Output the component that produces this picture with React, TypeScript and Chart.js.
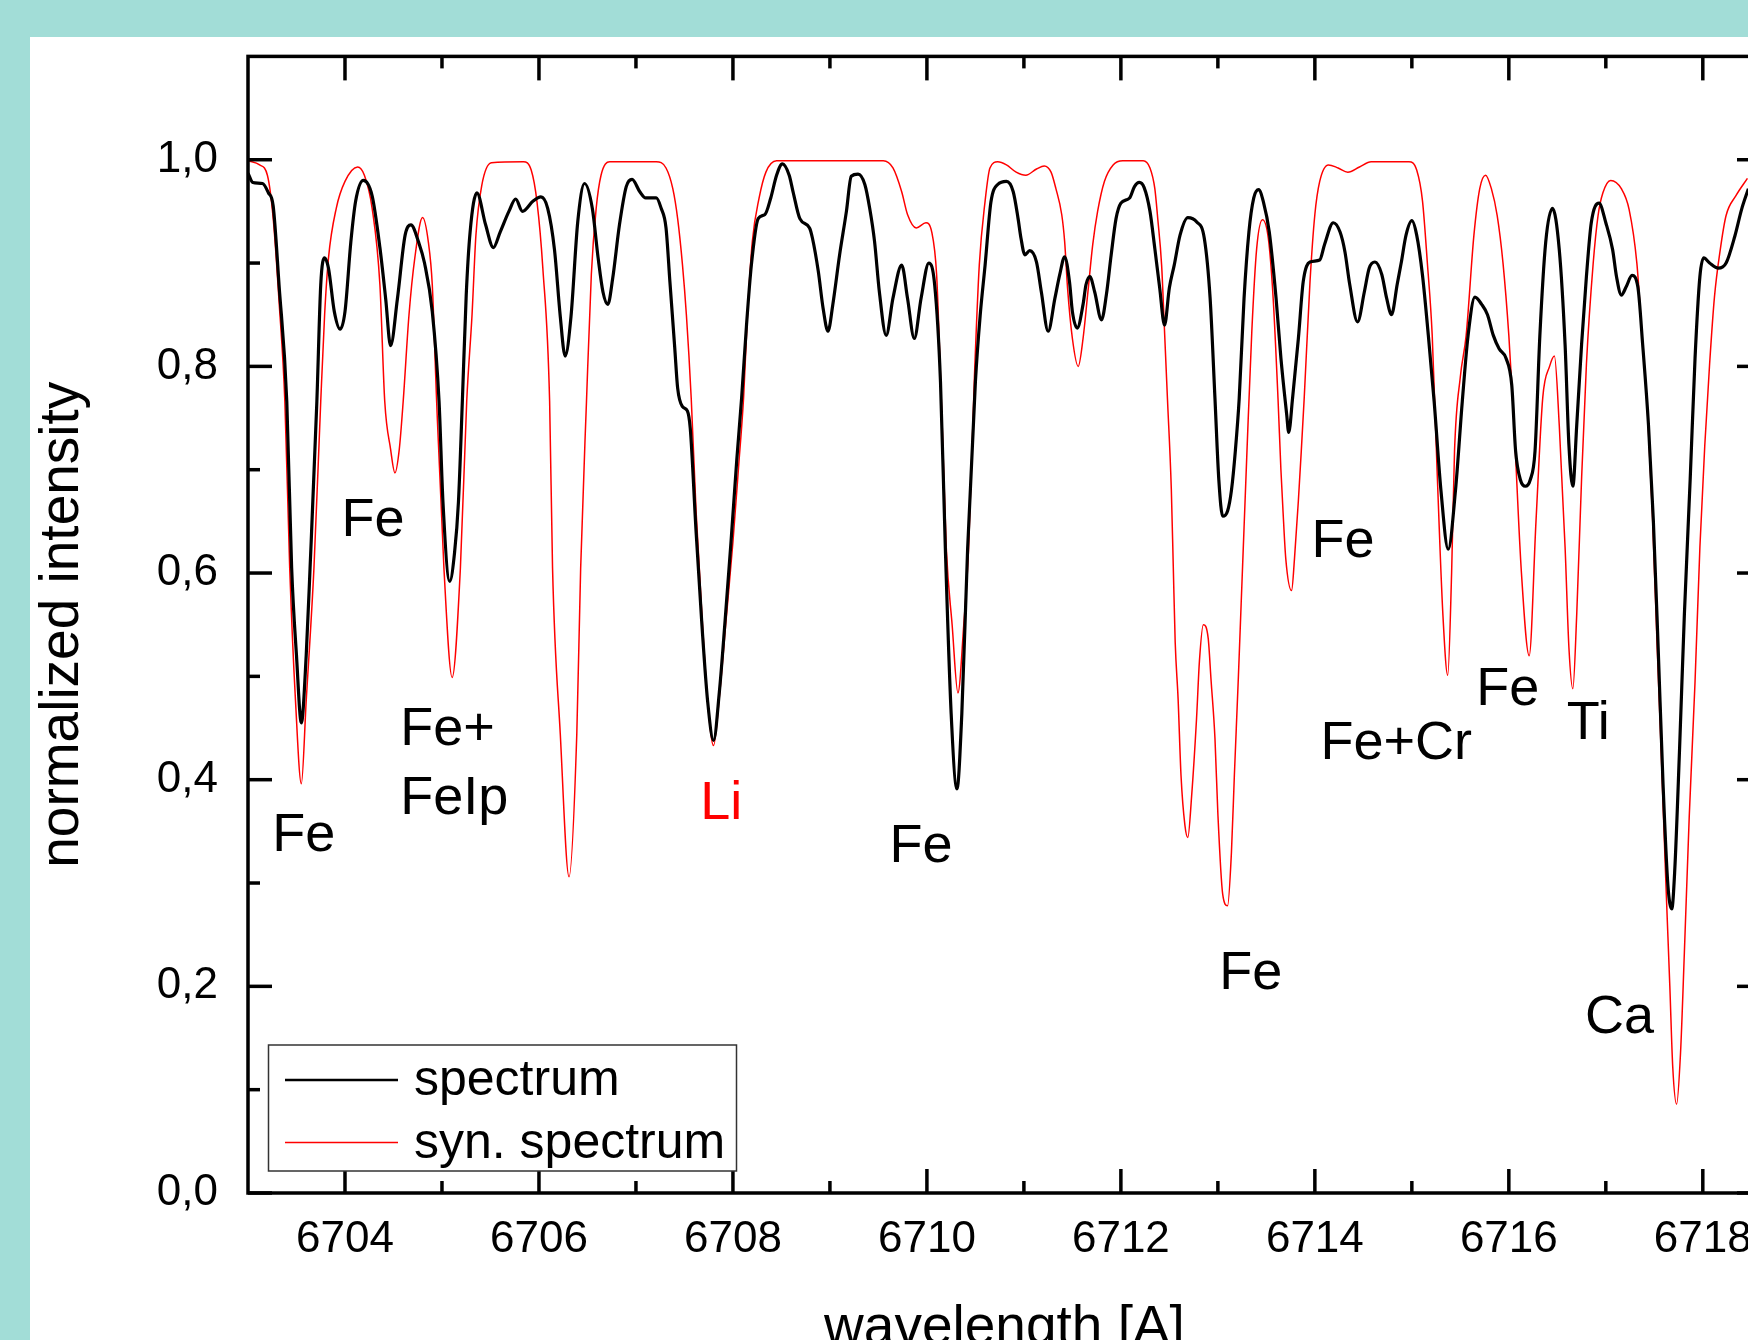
import React, { useEffect, useRef } from 'react';
import { Chart, registerables } from 'chart.js';

Chart.register(...registerables);

// ---------- data ----------
const SERIES_NAMES = ['spectrum', 'syn. spectrum'];

const SPEC_WL = [
  6703.00, 6703.05, 6703.15, 6703.21, 6703.26, 6703.32, 6703.40, 6703.45, 6703.50, 6703.55,
  6703.60, 6703.64, 6703.71, 6703.75, 6703.79, 6703.83, 6703.89, 6703.95, 6704.00, 6704.06,
  6704.11, 6704.19, 6704.28, 6704.36, 6704.42, 6704.47, 6704.54, 6704.62, 6704.68, 6704.76,
  6704.82, 6704.90, 6704.97, 6705.01, 6705.08, 6705.13, 6705.17, 6705.21, 6705.25, 6705.29,
  6705.36, 6705.45, 6705.53, 6705.60, 6705.69, 6705.76, 6705.83, 6705.94, 6706.02, 6706.09,
  6706.16, 6706.22, 6706.27, 6706.33, 6706.40, 6706.47, 6706.55, 6706.61, 6706.66, 6706.71,
  6706.76, 6706.83, 6706.90, 6706.96, 6707.04, 6707.10, 6707.21, 6707.26, 6707.31, 6707.35,
  6707.40, 6707.43, 6707.48, 6707.53, 6707.56, 6707.62, 6707.68, 6707.74, 6707.80, 6707.86,
  6707.92, 6707.98, 6708.04, 6708.09, 6708.14, 6708.19, 6708.26, 6708.33, 6708.39, 6708.45,
  6708.51, 6708.58, 6708.62, 6708.69, 6708.79, 6708.82, 6708.88, 6708.93, 6708.98, 6709.03,
  6709.10, 6709.17, 6709.22, 6709.29, 6709.36, 6709.41, 6709.46, 6709.51, 6709.58, 6709.65,
  6709.74, 6709.80, 6709.87, 6709.94, 6710.02, 6710.08, 6710.14, 6710.19, 6710.25, 6710.31,
  6710.36, 6710.42, 6710.50, 6710.55, 6710.60, 6710.66, 6710.73, 6710.82, 6710.89, 6710.94,
  6710.97, 6711.01, 6711.06, 6711.13, 6711.18, 6711.25, 6711.32, 6711.37, 6711.42, 6711.47,
  6711.50, 6711.55, 6711.61, 6711.64, 6711.68, 6711.73, 6711.80, 6711.85, 6711.90, 6711.95,
  6712.00, 6712.09, 6712.14, 6712.19, 6712.24, 6712.30, 6712.35, 6712.40, 6712.45, 6712.50,
  6712.55, 6712.61, 6712.69, 6712.78, 6712.86, 6712.92, 6712.97, 6713.01, 6713.05, 6713.10,
  6713.14, 6713.18, 6713.22, 6713.27, 6713.32, 6713.37, 6713.42, 6713.47, 6713.53, 6713.60,
  6713.65, 6713.71, 6713.73, 6713.77, 6713.83, 6713.88, 6713.95, 6714.05, 6714.10, 6714.19,
  6714.26, 6714.31, 6714.36, 6714.44, 6714.51, 6714.56, 6714.62, 6714.69, 6714.74, 6714.79,
  6714.85, 6714.89, 6714.94, 6715.00, 6715.05, 6715.11, 6715.17, 6715.23, 6715.30, 6715.375,
  6715.45, 6715.52, 6715.58, 6715.65, 6715.72, 6715.78, 6715.84, 6715.90, 6715.97, 6716.03,
  6716.07, 6716.12, 6716.17, 6716.22, 6716.27, 6716.32, 6716.38, 6716.45, 6716.52, 6716.58,
  6716.62, 6716.66, 6716.70, 6716.75, 6716.80, 6716.85, 6716.93, 6717.00, 6717.07, 6717.11,
  6717.16, 6717.21, 6717.27, 6717.33, 6717.38, 6717.44, 6717.49, 6717.54, 6717.59, 6717.64,
  6717.68, 6717.71, 6717.76, 6717.81, 6717.87, 6717.92, 6717.97, 6718.01, 6718.07, 6718.16,
  6718.24, 6718.33, 6718.40, 6718.47,
];
const SPEC_INT = [
  0.987, 0.978, 0.977, 0.968, 0.955, 0.879, 0.766, 0.605, 0.520, 0.455,
  0.520, 0.605, 0.766, 0.879, 0.905, 0.895, 0.853, 0.836, 0.853, 0.920,
  0.960, 0.980, 0.965, 0.915, 0.865, 0.820, 0.865, 0.927, 0.937, 0.920,
  0.900, 0.853, 0.766, 0.669, 0.592, 0.620, 0.669, 0.766, 0.869, 0.930,
  0.968, 0.937, 0.915, 0.930, 0.950, 0.962, 0.950, 0.960, 0.964, 0.953,
  0.913, 0.848, 0.810, 0.848, 0.940, 0.977, 0.953, 0.905, 0.872, 0.860,
  0.885, 0.937, 0.974, 0.981, 0.969, 0.963, 0.963, 0.953, 0.934, 0.882,
  0.818, 0.779, 0.761, 0.757, 0.740, 0.640, 0.550, 0.475, 0.438, 0.485,
  0.555, 0.630, 0.710, 0.770, 0.840, 0.898, 0.943, 0.947, 0.963, 0.985,
  0.996, 0.985, 0.969, 0.943, 0.934, 0.924, 0.892, 0.856, 0.834, 0.860,
  0.908, 0.950, 0.984, 0.986, 0.976, 0.953, 0.921, 0.872, 0.830, 0.866,
  0.898, 0.866, 0.827, 0.866, 0.900, 0.879, 0.785, 0.624, 0.464, 0.391,
  0.464, 0.624, 0.785, 0.850, 0.898, 0.959, 0.976, 0.979, 0.969, 0.943,
  0.924, 0.908, 0.912, 0.901, 0.872, 0.834, 0.866, 0.889, 0.906, 0.882,
  0.853, 0.837, 0.860, 0.879, 0.887, 0.872, 0.845, 0.869, 0.908, 0.943,
  0.958, 0.963, 0.974, 0.978, 0.973, 0.950, 0.914, 0.876, 0.840, 0.876,
  0.898, 0.927, 0.944, 0.940, 0.924, 0.866, 0.769, 0.690, 0.655, 0.660,
  0.680, 0.718, 0.769, 0.866, 0.930, 0.963, 0.971, 0.959, 0.930, 0.866,
  0.808, 0.753, 0.736, 0.769, 0.827, 0.882, 0.901, 0.903, 0.918, 0.939,
  0.930, 0.911, 0.879, 0.843, 0.872, 0.895, 0.901, 0.889, 0.866, 0.850,
  0.880, 0.900, 0.927, 0.941, 0.927, 0.888, 0.830, 0.766, 0.680, 0.623,
  0.680, 0.766, 0.830, 0.867, 0.860, 0.850, 0.830, 0.817, 0.808, 0.782,
  0.718, 0.690, 0.684, 0.690, 0.718, 0.830, 0.920, 0.953, 0.913, 0.821,
  0.723, 0.684, 0.743, 0.821, 0.887, 0.939, 0.958, 0.939, 0.913, 0.887,
  0.869, 0.877, 0.888, 0.877, 0.821, 0.743, 0.651, 0.527, 0.396, 0.298,
  0.275, 0.311, 0.429, 0.560, 0.691, 0.808, 0.887, 0.905, 0.900, 0.895,
  0.900, 0.926, 0.952, 0.972,
];

const SYN_WL = [
  6703.00, 6703.12, 6703.20, 6703.26, 6703.32, 6703.38, 6703.43, 6703.49, 6703.55, 6703.60,
  6703.68, 6703.75, 6703.79, 6703.83, 6703.91, 6704.00, 6704.13, 6704.20, 6704.28, 6704.36,
  6704.41, 6704.47, 6704.515, 6704.56, 6704.60, 6704.66, 6704.72, 6704.80, 6704.86, 6704.90,
  6704.945, 6705.02, 6705.105, 6705.19, 6705.255, 6705.31, 6705.35, 6705.41, 6705.51, 6705.84,
  6705.92, 6705.98, 6706.04, 6706.11, 6706.14, 6706.22, 6706.31, 6706.39, 6706.43, 6706.49,
  6706.54, 6706.59, 6706.64, 6706.73, 6707.21, 6707.31, 6707.38, 6707.43, 6707.48, 6707.52,
  6707.57, 6707.62, 6707.68, 6707.74, 6707.80, 6707.86, 6707.93, 6708.00, 6708.06, 6708.11,
  6708.15, 6708.20, 6708.27, 6708.34, 6708.45, 6709.55, 6709.65, 6709.74, 6709.80, 6709.89,
  6709.99, 6710.05, 6710.10, 6710.13, 6710.16, 6710.20, 6710.26, 6710.32, 6710.38, 6710.43,
  6710.49, 6710.54, 6710.60, 6710.65, 6710.73, 6710.82, 6710.92, 6711.02, 6711.13, 6711.21,
  6711.28, 6711.33, 6711.39, 6711.42, 6711.45, 6711.50, 6711.56, 6711.61, 6711.66, 6711.71,
  6711.76, 6711.83, 6711.92, 6712.02, 6712.23, 6712.30, 6712.35, 6712.38, 6712.42, 6712.45,
  6712.48, 6712.52, 6712.54, 6712.56, 6712.59, 6712.62, 6712.66, 6712.69, 6712.73, 6712.78,
  6712.81, 6712.85, 6712.90, 6712.93, 6712.97, 6713.00, 6713.05, 6713.10, 6713.14, 6713.17,
  6713.21, 6713.24, 6713.27, 6713.30, 6713.35, 6713.40, 6713.46, 6713.52, 6713.57, 6713.62,
  6713.65, 6713.67, 6713.70, 6713.76, 6713.79, 6713.83, 6713.86, 6713.89, 6713.95, 6714.00,
  6714.05, 6714.14, 6714.24, 6714.34, 6714.46, 6714.58, 6714.97, 6715.05, 6715.11, 6715.16,
  6715.21, 6715.26, 6715.32, 6715.37, 6715.41, 6715.44, 6715.50, 6715.56, 6715.64, 6715.70,
  6715.76, 6715.82, 6715.88, 6715.94, 6716.00, 6716.05, 6716.13, 6716.21, 6716.28, 6716.35,
  6716.42, 6716.47, 6716.52, 6716.58, 6716.62, 6716.66, 6716.70, 6716.75, 6716.80, 6716.87,
  6716.92, 6716.97, 6717.05, 6717.16, 6717.24, 6717.32, 6717.37, 6717.43, 6717.48, 6717.53,
  6717.57, 6717.62, 6717.66, 6717.69, 6717.73, 6717.77, 6717.81, 6717.86, 6717.92, 6717.97,
  6718.02, 6718.07, 6718.12, 6718.18, 6718.24, 6718.34, 6718.46,
];
const SYN_INT = [
  0.999, 0.995, 0.985, 0.943, 0.863, 0.766, 0.605, 0.476, 0.396, 0.476,
  0.605, 0.766, 0.850, 0.905, 0.953, 0.979, 0.993, 0.985, 0.953, 0.879,
  0.766, 0.720, 0.697, 0.720, 0.766, 0.850, 0.905, 0.944, 0.920, 0.879,
  0.766, 0.605, 0.499, 0.605, 0.766, 0.850, 0.927, 0.975, 0.997, 0.998,
  0.990, 0.959, 0.895, 0.766, 0.605, 0.444, 0.306, 0.444, 0.605, 0.766,
  0.889, 0.953, 0.985, 0.998, 0.998, 0.992, 0.972, 0.943, 0.898, 0.850,
  0.769, 0.660, 0.560, 0.475, 0.433, 0.480, 0.555, 0.630, 0.705, 0.770,
  0.850, 0.921, 0.963, 0.988, 0.999, 0.999, 0.992, 0.969, 0.947, 0.934,
  0.939, 0.930, 0.889, 0.818, 0.737, 0.624, 0.550, 0.484, 0.550, 0.624,
  0.790, 0.898, 0.960, 0.992, 0.998, 0.995, 0.988, 0.985, 0.991, 0.994,
  0.988, 0.972, 0.947, 0.921, 0.876, 0.827, 0.800, 0.827, 0.872, 0.918,
  0.950, 0.979, 0.995, 0.999, 0.999, 0.992, 0.972, 0.943, 0.898, 0.834,
  0.769, 0.681, 0.607, 0.533, 0.478, 0.404, 0.356, 0.344, 0.385, 0.459,
  0.515, 0.550, 0.537, 0.496, 0.440, 0.367, 0.289, 0.278, 0.330, 0.404,
  0.496, 0.570, 0.644, 0.718, 0.834, 0.914, 0.942, 0.924, 0.866, 0.769,
  0.700, 0.663, 0.614, 0.583, 0.614, 0.670, 0.718, 0.769, 0.882, 0.947,
  0.979, 0.995, 0.992, 0.988, 0.993, 0.998, 0.998, 0.990, 0.960, 0.900,
  0.830, 0.700, 0.560, 0.501, 0.600, 0.718, 0.790, 0.830, 0.927, 0.972,
  0.985, 0.972, 0.946, 0.900, 0.830, 0.750, 0.600, 0.520, 0.650, 0.770,
  0.800, 0.810, 0.743, 0.625, 0.527, 0.488, 0.560, 0.691, 0.802, 0.900,
  0.946, 0.968, 0.980, 0.972, 0.952, 0.900, 0.834, 0.756, 0.658, 0.527,
  0.429, 0.298, 0.200, 0.122, 0.086, 0.135, 0.233, 0.364, 0.495, 0.625,
  0.723, 0.802, 0.867, 0.913, 0.946, 0.965, 0.982,
];

const X_RANGE = [6703, 6718.6];
const Y_RANGE = [0, 1.1];
const X_TICKS = [6704, 6706, 6708, 6710, 6712, 6714, 6716, 6718];
const X_MINOR = [6705, 6707, 6709, 6711, 6713, 6715, 6717];
const Y_TICKS = [0, 0.2, 0.4, 0.6, 0.8, 1.0];
const Y_MINOR = [0.1, 0.3, 0.5, 0.7, 0.9];

const ANNOT_TEXT = ['Fe', 'Fe', 'Fe+', 'FeIp', 'Li', 'Fe', 'Fe', 'Fe', 'Fe+Cr', 'Fe', 'Ti', 'Ca'];
const ANNOT_WL = [6703.575, 6704.29, 6704.57, 6704.57, 6707.88, 6709.94, 6713.34, 6714.29, 6714.84, 6715.99, 6716.82, 6717.14];
const ANNOT_INT = [0.345, 0.650, 0.448, 0.381, 0.376, 0.335, 0.212, 0.630, 0.434, 0.487, 0.454, 0.169];
const ANNOT_ALIGN = ['center', 'center', 'left', 'left', 'center', 'center', 'center', 'center', 'center', 'center', 'center', 'center'];
const ANNOT_RED = [false, false, false, false, true, false, false, false, false, false, false, false];

// ---------- styling ----------
const FONT = '"Liberation Sans", Arial, Helvetica, sans-serif';
const BLACK = '#000000';
const RED = '#ff0000';

const overlayPlugin = {
  id: 'overlay',
  afterDatasetsDraw(chart: any) {
    const { ctx, chartArea: a, scales } = chart;
    const xs = scales.x;
    const ys = scales.y;
    ctx.save();

    // frame
    ctx.strokeStyle = BLACK;
    ctx.lineWidth = 3.5;
    ctx.strokeRect(a.left, a.top, a.right - a.left, a.bottom - a.top);

    const seg = (x1: number, y1: number, x2: number, y2: number) => {
      ctx.beginPath();
      ctx.moveTo(x1, y1);
      ctx.lineTo(x2, y2);
      ctx.stroke();
    };
    const MAJ = 24;
    const MIN = 12;
    ctx.lineWidth = 3.5;
    X_TICKS.forEach((v) => {
      const p = xs.getPixelForValue(v);
      seg(p, a.bottom, p, a.bottom - MAJ);
      seg(p, a.top, p, a.top + MAJ);
    });
    X_MINOR.forEach((v) => {
      const p = xs.getPixelForValue(v);
      seg(p, a.bottom, p, a.bottom - MIN);
      seg(p, a.top, p, a.top + MIN);
    });
    Y_TICKS.forEach((v) => {
      const p = ys.getPixelForValue(v);
      seg(a.left, p, a.left + MAJ, p);
      seg(a.right, p, a.right - MAJ, p);
    });
    Y_MINOR.forEach((v) => {
      const p = ys.getPixelForValue(v);
      seg(a.left, p, a.left + MIN, p);
      seg(a.right, p, a.right - MIN, p);
    });

    // line annotations
    ctx.font = `54px ${FONT}`;
    ctx.textBaseline = 'middle';
    ANNOT_TEXT.forEach((t, i) => {
      ctx.fillStyle = ANNOT_RED[i] ? RED : BLACK;
      ctx.textAlign = ANNOT_ALIGN[i] as CanvasTextAlign;
      ctx.fillText(t, xs.getPixelForValue(ANNOT_WL[i]), ys.getPixelForValue(ANNOT_INT[i]));
    });

    // legend
    const bx = 268.5, by = 1045, bw = 468, bh = 126;
    ctx.fillStyle = '#ffffff';
    ctx.fillRect(bx, by, bw, bh);
    ctx.strokeStyle = '#333333';
    ctx.lineWidth = 1.5;
    ctx.strokeRect(bx, by, bw, bh);
    const ds = chart.data.datasets;
    const rows = [1080, 1142.5];
    ctx.font = `50px ${FONT}`;
    ctx.textAlign = 'left';
    ctx.textBaseline = 'alphabetic';
    ds.forEach((d: any, i: number) => {
      ctx.strokeStyle = d.borderColor;
      ctx.lineWidth = i === 0 ? 2.5 : 1.5;
      seg(285, rows[i], 398, rows[i]);
      ctx.fillStyle = BLACK;
      ctx.fillText(d.label, 414, rows[i] + 15);
    });

    ctx.restore();
  },
};

export default function App() {
  const ref = useRef<HTMLCanvasElement>(null);

  useEffect(() => {
    if (!ref.current) return;
    const chart = new Chart(ref.current, {
      type: 'line',
      data: {
        datasets: [
          {
            label: SERIES_NAMES[0],
            data: SPEC_WL.map((w, i) => ({ x: w, y: SPEC_INT[i] })),
            borderColor: BLACK,
            borderWidth: 3.2,
            pointRadius: 0,
            fill: false,
            cubicInterpolationMode: 'monotone',
          },
          {
            label: SERIES_NAMES[1],
            data: SYN_WL.map((w, i) => ({ x: w, y: SYN_INT[i] })),
            borderColor: RED,
            borderWidth: 1.5,
            pointRadius: 0,
            fill: false,
            cubicInterpolationMode: 'monotone',
          },
        ],
      },
      options: {
        animation: false,
        responsive: false,
        devicePixelRatio: 1,
        layout: { padding: { top: 54, right: 39, bottom: 0, left: 0 } },
        plugins: { legend: { display: false }, tooltip: { enabled: false } },
        scales: {
          x: {
            type: 'linear',
            min: X_RANGE[0],
            max: X_RANGE[1],
            afterBuildTicks: (s: any) => {
              s.ticks = X_TICKS.map((v) => ({ value: v }));
            },
            afterFit: (s: any) => {
              s.height = 207;
            },
            grid: { display: false, drawTicks: false },
            border: { display: false },
            ticks: {
              autoSkip: false,
              maxRotation: 0,
              padding: 20,
              color: BLACK,
              font: { family: FONT, size: 44 },
              callback: (v: any) => String(v),
            },
            title: {
              display: true,
              text: 'wavelength [A]',
              color: BLACK,
              font: { family: FONT, size: 55 },
              padding: { top: 0, bottom: 38 },
            },
          },
          y: {
            type: 'linear',
            min: Y_RANGE[0],
            max: Y_RANGE[1],
            afterBuildTicks: (s: any) => {
              s.ticks = Y_TICKS.map((v) => ({ value: v }));
            },
            afterFit: (s: any) => {
              s.width = 248;
            },
            grid: { display: false, drawTicks: false },
            border: { display: false },
            ticks: {
              padding: 30,
              color: BLACK,
              font: { family: FONT, size: 44 },
              callback: (v: any) => Number(v).toFixed(1).replace('.', ','),
            },
            title: {
              display: true,
              text: 'normalized intensity',
              color: BLACK,
              font: { family: FONT, size: 55 },
              padding: { top: 30, bottom: 0 },
            },
          },
        },
      },
      plugins: [overlayPlugin],
    } as any);
    return () => chart.destroy();
  }, []);

  return (
    <div
      style={{
        position: 'fixed',
        left: 0,
        top: 0,
        width: 1748,
        height: 1340,
        overflow: 'hidden',
        background: '#a2ddd7',
      }}
    >
      <div style={{ position: 'absolute', left: 30, top: 37, right: 0, bottom: 0, background: '#ffffff' }} />
      <canvas
        ref={ref}
        width={1800}
        height={1400}
        style={{ position: 'absolute', left: 0, top: 0, width: 1800, height: 1400 }}
      />
    </div>
  );
}
